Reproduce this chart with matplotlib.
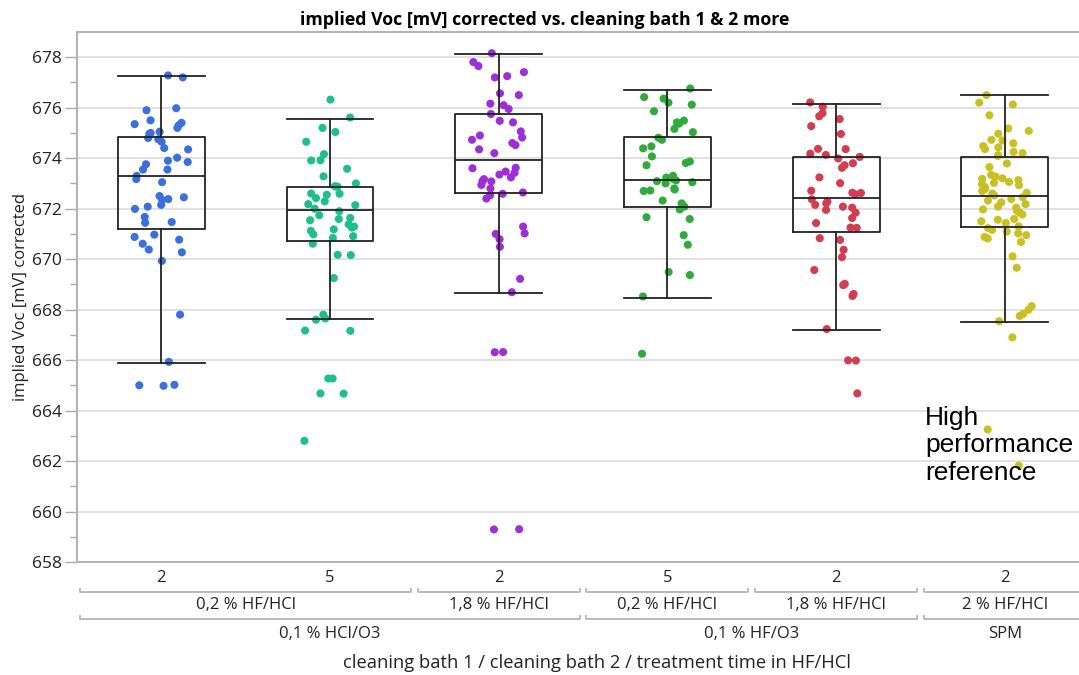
import numpy as np
import matplotlib
matplotlib.use('Agg')
import matplotlib.pyplot as plt
from matplotlib import transforms

plt.rcParams['font.family'] = ['Open Sans', 'DejaVu Sans']

# --- data ---
time_labels = ['2', '5', '2', '5', '2', '2']
bath2_labels = ['0,2 % HF/HCl', '1,8 % HF/HCl', '0,2 % HF/HCl', '1,8 % HF/HCl', '2 % HF/HCl']
bath2_spans = [(0, 1), (2, 2), (3, 3), (4, 4), (5, 5)]
bath1_labels = ['0,1 % HCl/O3', '0,1 % HF/O3', 'SPM']
bath1_spans = [(0, 2), (3, 4), (5, 5)]

colors = ['#3b6fdb', '#1fbf8c', '#9d2fd8', '#2eab3c', '#d23d50', '#c9c124']

g1 = [677.28, 677.2, 675.98, 675.9, 675.5, 675.4, 675.35, 675.3, 675.2, 675.05, 675.0, 674.97,
      674.8, 674.75, 674.65, 674.4, 674.35, 674.02, 673.9, 673.85, 673.76, 673.55, 673.55, 673.3,
      673.17, 673.05, 672.5, 672.45, 672.38, 672.35, 672.15, 672.08, 671.99, 671.67, 671.47,
      671.44, 670.97, 670.88, 670.77, 670.61, 670.38, 670.27, 669.93, 667.8, 665.93, 665.02,
      665.0, 664.98]
g2 = [676.32, 675.61, 675.2, 675.04, 674.65, 674.16, 673.92, 673.91, 673.58, 673.28, 673.0,
      672.89, 672.88, 672.87, 672.59, 672.6, 672.55, 672.42, 672.29, 672.18, 672.14, 672.0,
      671.9, 671.74, 671.63, 671.59, 671.54, 671.38, 671.29, 671.25, 671.18, 671.12, 670.98,
      670.91, 670.84, 670.61, 670.16, 670.17, 669.25, 667.8, 667.65, 667.6, 667.17, 667.16,
      665.27, 665.27, 664.68, 664.67, 662.8]
g3 = [678.16, 677.81, 677.65, 677.41, 677.25, 677.2, 676.57, 676.5, 676.16, 676.1, 675.95,
      675.75, 675.48, 675.42, 675.06, 674.9, 674.82, 674.73, 674.6, 674.52, 674.35, 674.2,
      673.62, 673.6, 673.47, 673.42, 673.35, 673.24, 673.17, 673.09, 673.08, 672.94, 672.8,
      672.64, 672.59, 672.53, 672.4, 671.29, 671.0, 671.02, 670.79, 670.49, 669.22, 668.69,
      666.32, 666.31, 659.3, 659.29]
g4 = [676.76, 676.42, 676.36, 676.2, 676.12, 675.86, 675.49, 675.42, 675.37, 675.16, 675.03,
      674.81, 674.73, 674.47, 674.39, 674.07, 673.87, 673.81, 673.72, 673.3, 673.23, 673.19,
      673.12, 673.09, 673.05, 673.0, 672.8, 672.76, 672.72, 672.7, 672.32, 672.21, 672.08,
      671.97, 671.66, 671.59, 670.95, 670.57, 669.49, 669.37, 668.52, 666.25]
g5 = [676.21, 676.04, 675.78, 675.66, 675.55, 675.27, 674.96, 674.37, 674.36, 674.18, 674.13,
      674.05, 673.99, 673.8, 673.72, 673.62, 673.24, 673.01, 672.71, 672.63, 672.62, 672.57,
      672.37, 672.29, 672.21, 672.15, 672.08, 672.04, 671.95, 671.84, 671.63, 671.43, 671.25,
      671.24, 670.83, 670.76, 670.37, 670.08, 669.57, 669.02, 668.97, 668.62, 668.54, 667.23,
      665.99, 665.98, 664.68]
g6 = [676.5, 676.2, 676.13, 675.7, 675.18, 675.08, 674.97, 674.73, 674.7, 674.59, 674.48,
      674.43, 674.36, 674.25, 674.2, 674.12, 674.09, 673.79, 673.65, 673.34, 673.27, 673.2,
      673.18, 673.13, 673.06, 673.02, 672.97, 672.93, 672.86, 672.8, 672.78, 672.7, 672.63,
      672.6, 672.52, 672.45, 672.38, 672.32, 672.25, 672.18, 672.08, 672.04, 671.97, 671.91,
      671.84, 671.77, 671.59, 671.56, 671.5, 671.43, 671.3, 671.23, 671.16, 671.09, 671.02,
      670.95, 670.88, 670.82, 670.68, 670.11, 669.66, 668.14, 667.99, 667.83, 667.75, 667.54,
      666.9, 663.25, 661.82]
groups = [g1, g2, g3, g4, g5, g6]

# box statistics as drawn in the picture
whis_hi = [677.25, 675.56, 678.12, 676.72, 676.16, 676.49]
q3 = [674.84, 672.85, 675.76, 674.84, 674.03, 674.03]
med = [673.3, 671.95, 673.91, 673.15, 672.44, 672.49]
q1 = [671.18, 670.7, 672.61, 672.08, 671.09, 671.28]
whis_lo = [665.9, 667.61, 668.66, 668.47, 667.2, 667.5]

fig = plt.figure(figsize=(10.79, 6.75), dpi=100)
ax = fig.add_axes([77 / 1079, 1 - 562 / 675, 1002 / 1079, 530 / 675])

rng = np.random.default_rng(7)
for i, g in enumerate(groups):
    xs = i + rng.uniform(-0.16, 0.16, len(g))
    ax.scatter(xs, g, s=34, color=colors[i], edgecolors='none', zorder=3)

stats = []
for i in range(6):
    stats.append({'med': med[i], 'q1': q1[i], 'q3': q3[i],
                  'whislo': whis_lo[i], 'whishi': whis_hi[i], 'fliers': []})
lp = dict(color='#222222', linewidth=1.3)
ax.bxp(stats, positions=range(6), widths=0.515, showfliers=False,
       boxprops=lp, whiskerprops=lp, capprops=lp, medianprops=lp,
       capwidths=0.515, zorder=4, manage_ticks=False)

ax.set_xlim(-0.5, 5.44)
ax.set_ylim(658, 679)
ax.set_yticks(np.arange(658, 679, 2))
ax.set_yticks(np.arange(659, 679, 2), minor=True)
ax.yaxis.grid(True, color='#dcdcdc', linewidth=1.2, zorder=0)
ax.set_axisbelow(True)
ax.tick_params(axis='y', which='major', length=9, width=1, color='#aaaaaa',
               labelsize=12.5, labelcolor='#222222', pad=2)
ax.tick_params(axis='y', which='minor', length=5, width=1, color='#aaaaaa')
ax.tick_params(axis='x', bottom=False, labelbottom=False)
for s in ['left', 'bottom', 'top']:
    ax.spines[s].set_color('#b4b4b4')
    ax.spines[s].set_linewidth(1.5)
ax.spines['right'].set_visible(False)

ax.set_ylabel('implied Voc [mV] corrected', fontsize=12, color='#222222', labelpad=2)

fig.text(545 / 1079, 1 - 20 / 675, 'implied Voc [mV] corrected vs. cleaning bath 1 & 2 more',
         ha='center', va='center', fontsize=12.8, fontweight='bold')

# hierarchical x axis
tr = transforms.blended_transform_factory(ax.transData, fig.transFigure)

def fy(py):
    return 1 - py / 675

for i, t in enumerate(time_labels):
    ax.text(i, fy(578), t, transform=tr, ha='center', va='center', fontsize=12,
            color='#222222', clip_on=False)

def bracket(a, b, py):
    x0, x1 = a - 0.5 + 0.02, b + 0.5 - 0.02
    ax.plot([x0, x0, x1, x1], [fy(py - 3), fy(py), fy(py), fy(py - 3)], transform=tr,
            color='#b4b4b4', linewidth=1.3, clip_on=False)

for lab, (a, b) in zip(bath2_labels, bath2_spans):
    bracket(a, b, 592)
    ax.text((a + b) / 2, fy(605), lab, transform=tr, ha='center', va='center',
            fontsize=12, color='#222222', clip_on=False)
for lab, (a, b) in zip(bath1_labels, bath1_spans):
    bracket(a, b, 619)
    ax.text((a + b) / 2, fy(634), lab, transform=tr, ha='center', va='center',
            fontsize=12, color='#222222', clip_on=False)

fig.text(597 / 1079, fy(663), 'cleaning bath 1 / cleaning bath 2 / treatment time in HF/HCl',
         ha='center', va='center', fontsize=13.2, color='#222222')

ax.text(4.527, 664.2, 'High\nperformance\nreference', fontsize=19,
        family='Liberation Sans', va='top', ha='left', linespacing=1.2, zorder=5)

fig.savefig('out.png', dpi=100)
